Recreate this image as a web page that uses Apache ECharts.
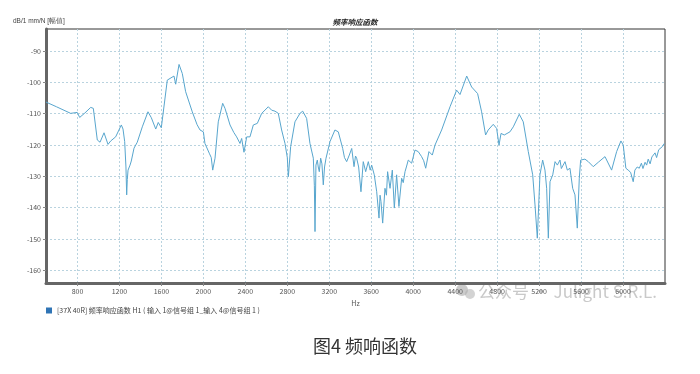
<!DOCTYPE html>
<html>
<head>
<meta charset="utf-8">
<script src="https://cdn.jsdelivr.net/npm/echarts@6/dist/echarts.min.js"></script>
<style>
html,body{margin:0;padding:0;background:#fff;}
#c{width:700px;height:374px;}
</style>
</head>
<body>
<div id="c"></div>
<script>
const freqHz = [500,600,735,798,821,870,926,951,989,1015,1053,1072,1091,1117,1164,1218,1234,1250,1262,1269,1275,1282,1301,1313,1339,1370,1418,1472,1504,1546,1570,1587,1599,1656,1720,1736,1768,1799,1831,1894,1940,1968,2000,2015,2056,2075,2089,2111,2142,2184,2206,2254,2290,2317,2349,2365,2387,2413,2444,2476,2514,2556,2619,2651,2683,2714,2746,2778,2800,2810,2832,2873,2921,2947,2984,3016,3048,3058,3064,3073,3086,3095,3105,3118,3130,3143,3155,3169,3207,3254,3286,3328,3345,3366,3391,3414,3436,3450,3461,3480,3502,3524,3547,3572,3590,3604,3629,3652,3674,3684,3693,3709,3731,3745,3756,3779,3801,3820,3842,3864,3890,3905,3922,3935,3953,3985,4017,4048,4080,4100,4119,4150,4182,4208,4271,4351,4414,4446,4510,4557,4614,4652,4690,4715,4763,4795,4818,4837,4868,4922,4954,5011,5049,5097,5139,5161,5183,5208,5234,5256,5272,5288,5304,5330,5352,5374,5399,5412,5425,5447,5469,5494,5520,5542,5564,5583,5596,5637,5669,5716,5764,5828,5891,5939,5980,6002,6027,6049,6072,6097,6113,6135,6155,6175,6190,6210,6225,6240,6258,6275,6289,6305,6320,6340,6355,6375,6393];
const responseDb = [-106.3,-107.8,-109.9,-109.6,-111.2,-109.8,-108.0,-108.3,-118.4,-119.1,-116.1,-116.3,-119.8,-118.7,-117.4,-113.6,-114.9,-118.9,-127,-135.9,-131,-128.0,-126.4,-125.1,-121.0,-119.1,-114.2,-109.4,-111.3,-114.9,-112.8,-112.4,-114.5,-99.3,-98.0,-100.6,-94.3,-97.2,-103.0,-109.4,-113.5,-115.2,-115.8,-119.5,-122.6,-124,-128.0,-124.2,-112.6,-106.7,-108.3,-113.6,-116,-117.4,-119.5,-117.9,-122.3,-117.4,-117.4,-113.6,-113.1,-109.9,-107.8,-108.9,-109.2,-109.9,-115.2,-119.5,-124,-130.1,-120.5,-112.6,-109.9,-109.2,-111.5,-119.5,-124.2,-133,-147.6,-126.4,-124.8,-127,-128.5,-124.2,-126,-132.7,-127,-124.2,-118.9,-115.2,-115.8,-121.1,-124,-125.3,-123.2,-121.1,-126.9,-123.5,-124.2,-127,-134.9,-125.3,-128.5,-125.3,-128,-126.4,-129.5,-134.9,-143.3,-136,-138.0,-144.9,-133.8,-136,-128.5,-133.8,-128.0,-140.1,-129.5,-139.6,-130.6,-132,-128.5,-127,-124.8,-125.8,-121.6,-122.1,-123.7,-125,-127.4,-122.1,-123.2,-120.0,-115.2,-107.8,-102.5,-103.9,-98.0,-101.5,-103.6,-109.4,-116.8,-115.2,-113.4,-114.7,-120.0,-116.3,-116.8,-115.8,-114.2,-110.2,-112.6,-122.1,-129.5,-139.1,-149.7,-129.5,-124.8,-128.0,-133.8,-149.7,-131.7,-129.5,-125.3,-126.4,-124.8,-127.5,-126.9,-125.3,-128.0,-127.4,-133.8,-135.9,-146.5,-130.6,-124.8,-124.5,-125.3,-126.9,-125.5,-123.7,-128.0,-122.1,-118.7,-120.0,-127.4,-128.0,-128.7,-131.7,-128.0,-127,-127.4,-125.8,-127.5,-125.5,-126.4,-124.5,-126,-123.8,-124.2,-122.5,-124,-121.5,-121.1,-120.5,-119.5];
const xTicks = [800,1200,1600,2000,2400,2800,3200,3600,4000,4400,4800,5200,5600,6000];
const yTicks = [-160,-150,-140,-130,-120,-110,-100,-90];
const seriesName = '[37X 40R] 频率响应函数 H1 ( 输入 1@信号组 1_输入 4@信号组 1 )';
const chartTitle = '频率响应函数';
const yName = 'dB/1 mm/N [幅值]';
const caption = '图4 频响函数';
const watermark = '公众号 · Julight S.R.L.';

const data = freqHz.map((f, i) => [f, responseDb[i]]);
const chart = echarts.init(document.getElementById('c'), null, {renderer: 'canvas'});
const fam = '"Noto Sans CJK SC", "Noto Sans", sans-serif';
chart.setOption({
  animation: false,
  backgroundColor: '#fff',
  grid: {left: 46, right: 35, top: 29, bottom: 91, show: true, borderColor: '#333', borderWidth: 1},
  xAxis: {
    type: 'value', min: 500, max: 6400,
    name: 'Hz', nameLocation: 'middle', nameGap: 17,
    nameTextStyle: {fontSize: 7, color: '#555', fontFamily: fam},
    axisLine: {show: true, lineStyle: {color: '#666', width: 3}},
    axisTick: {show: true, customValues: xTicks, length: 3, lineStyle: {color: '#888'}},
    axisLabel: {customValues: xTicks, fontSize: 7, color: '#555', margin: 5, fontFamily: fam, formatter: v => String(v)},
    splitLine: {show: true, lineStyle: {color: '#b9d3df', type: [2, 2], width: 1}}
  },
  yAxis: {
    type: 'value', min: -164, max: -83,
    axisLine: {show: true, lineStyle: {color: '#666', width: 3}},
    axisTick: {show: true, customValues: yTicks, length: 3, lineStyle: {color: '#888'}},
    axisLabel: {customValues: yTicks, fontSize: 7, color: '#555', margin: 5, fontFamily: fam, formatter: v => String(v)},
    splitLine: {show: true, lineStyle: {color: '#b9d3df', type: [2, 2], width: 1}}
  },
  legend: {
    left: 41, top: 302, icon: 'rect', itemWidth: 6, itemHeight: 6,
    textStyle: {fontSize: 7, color: '#444', fontFamily: fam},
    data: [{name: seriesName, itemStyle: {color: '#2f74b5'}}]
  },
  series: [{
    type: 'line', name: seriesName, data: data, showSymbol: false,
    lineStyle: {color: '#58a6ce', width: 1}, itemStyle: {color: '#58a6ce'}
  }],
  graphic: [
    {type: 'text', left: 13, top: 18, style: {text: yName, fontSize: 6.5, fill: '#444', font: '6.5px ' + fam}},
    {type: 'text', x: 355, y: 22, style: {text: chartTitle, align: 'center', verticalAlign: 'middle', font: 'italic bold 7.5px ' + fam, fill: '#222'}},
    {type: 'circle', shape: {cx: 462, cy: 290, r: 6}, style: {fill: 'rgba(160,160,160,0.55)'}},
    {type: 'circle', shape: {cx: 470, cy: 294, r: 5}, style: {fill: 'rgba(175,175,175,0.55)'}},
    {type: 'text', x: 478, y: 292, style: {text: watermark, align: 'left', verticalAlign: 'middle', font: '17px ' + fam, fill: 'rgba(165,165,165,0.6)'}},
    {type: 'text', x: 365, y: 346, style: {text: caption, align: 'center', verticalAlign: 'middle', font: '18px ' + fam, fill: '#333'}}
  ]
});
</script>
</body>
</html>
